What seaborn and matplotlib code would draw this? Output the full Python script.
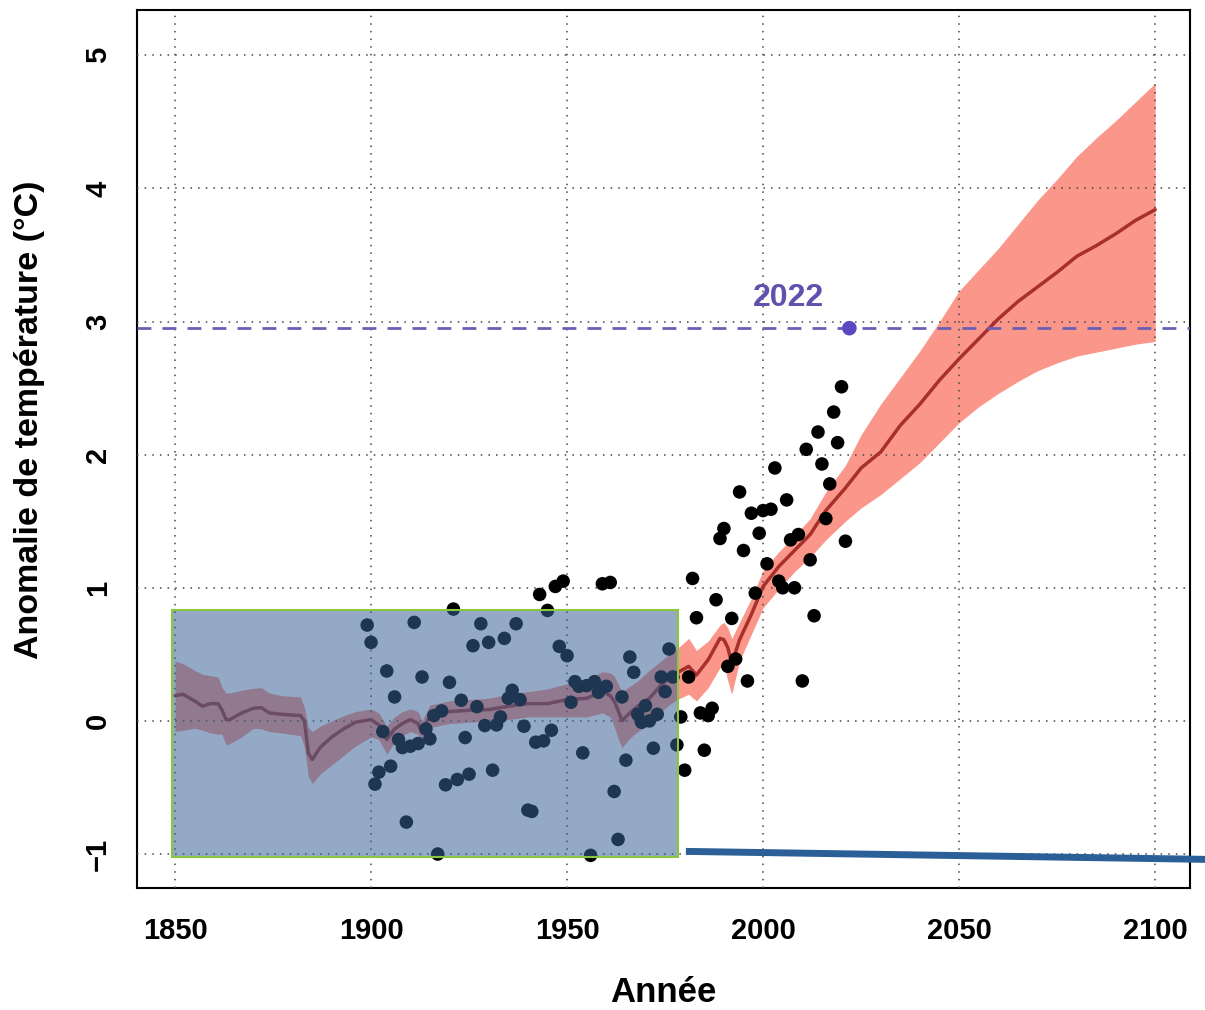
import numpy as np
import pandas as pd
import matplotlib
matplotlib.use("Agg")
import matplotlib.pyplot as plt
from matplotlib.patches import Rectangle
import seaborn as sns

# ---------------- data ----------------
obs_years = list(range(1899, 2022))
obs_values = [
    0.72, 0.59, -0.475, -0.385, -0.08, 0.375, -0.34, 0.18, -0.14, -0.20,   # 1899-1908
    -0.76, -0.19, 0.74, -0.17, 0.33, -0.06, -0.135, 0.04, -1.00, 0.075,    # 1909-1918
    -0.48, 0.29, 0.84, -0.44, 0.155, -0.125, -0.40, 0.565, 0.107, 0.73,    # 1919-1928
    -0.035, 0.59, -0.37, -0.03, 0.03, 0.62, 0.17, 0.23, 0.73, 0.16,        # 1929-1938
    -0.04, -0.67, -0.68, -0.16, 0.95, -0.15, 0.83, -0.07, 1.01, 0.56,      # 1939-1948
    1.05, 0.49, 0.14, 0.295, 0.26, -0.24, 0.265, -1.01, 0.295, 0.215,      # 1949-1958
    1.03, 0.26, 1.04, -0.53, -0.89, 0.18, -0.295, 0.48, 0.365, 0.05,       # 1959-1968
    -0.01, 0.115, 0.00, -0.205, 0.05, 0.33, 0.22, 0.54, 0.33, -0.18,       # 1969-1978
    0.03, -0.37, 0.33, 1.07, 0.775, 0.06, -0.22, 0.04, 0.095, 0.91,        # 1979-1988
    1.37, 1.445, 0.41, 0.77, 0.465, 1.72, 1.28, 0.30, 1.56, 0.96,          # 1989-1998
    1.41, 1.58, 1.18, 1.59, 1.90, 1.05, 1.00, 1.66, 1.36, 1.00,            # 1999-2008
    1.40, 0.30, 2.04, 1.21, 0.79, 2.17, 1.93, 1.52, 1.78, 2.32,            # 2009-2018
    2.09, 2.51, 1.35,                                                      # 2019-2021
]
highlight_year = [2022]
highlight_value = [2.95]
highlight_label = "2022"

model_years = [1850, 1852, 1855, 1857, 1859, 1861, 1862, 1863, 1864, 1867,
               1870, 1872, 1874, 1877, 1882, 1883, 1884, 1885, 1887, 1890,
               1893, 1896, 1900, 1902, 1904, 1906, 1908, 1910, 1912, 1913,
               1915, 1920, 1925, 1930, 1935, 1940, 1945, 1950, 1955, 1959,
               1961, 1962, 1963, 1964, 1966, 1968, 1971, 1974, 1976, 1978,
               1981, 1983, 1986, 1989, 1990, 1991, 1992, 1994, 1997, 2000,
               2004, 2008, 2012, 2016, 2021, 2025, 2030, 2035, 2040, 2045,
               2050, 2055, 2060, 2065, 2070, 2075, 2080, 2085, 2090, 2095,
               2100]
model_mean = [0.19, 0.20, 0.15, 0.11, 0.13, 0.13, 0.08, 0.01, 0.01, 0.06,
              0.095, 0.10, 0.06, 0.05, 0.04, 0.00, -0.24, -0.29, -0.20, -0.12,
              -0.06, -0.01, 0.01, -0.03, -0.14, -0.06, -0.02, 0.01, -0.02, -0.09,
              0.04, 0.07, 0.08, 0.085, 0.11, 0.13, 0.13, 0.16, 0.17, 0.22,
              0.19, 0.15, 0.08, 0.00, 0.06, 0.11, 0.17, 0.27, 0.32, 0.36,
              0.41, 0.345, 0.46, 0.62, 0.61, 0.55, 0.43, 0.61, 0.80, 1.01,
              1.16, 1.28, 1.40, 1.58, 1.75, 1.90, 2.02, 2.22, 2.38, 2.56,
              2.72, 2.87, 3.02, 3.15, 3.26, 3.37, 3.49, 3.57, 3.66, 3.76,
              3.84]
model_upper = [0.45, 0.43, 0.38, 0.35, 0.34, 0.33, 0.25, 0.21, 0.21, 0.23,
               0.245, 0.25, 0.21, 0.19, 0.18, 0.10, -0.05, -0.08, -0.04, 0.00,
               0.04, 0.07, 0.09, 0.06, -0.04, 0.03, 0.07, 0.09, 0.07, 0.00,
               0.12, 0.15, 0.16, 0.17, 0.20, 0.22, 0.24, 0.28, 0.31, 0.37,
               0.36, 0.34, 0.28, 0.22, 0.26, 0.30, 0.38, 0.45, 0.50, 0.54,
               0.62, 0.53, 0.60, 0.72, 0.74, 0.70, 0.62, 0.74, 0.92, 1.13,
               1.27, 1.39, 1.52, 1.72, 1.92, 2.15, 2.38, 2.58, 2.78, 3.00,
               3.23, 3.39, 3.55, 3.73, 3.91, 4.07, 4.24, 4.38, 4.51, 4.65,
               4.79]
model_lower = [-0.08, -0.07, -0.055, -0.07, -0.09, -0.10, -0.10, -0.18, -0.17, -0.12,
               -0.055, -0.06, -0.08, -0.09, -0.11, -0.20, -0.42, -0.47, -0.40, -0.33,
               -0.26, -0.19, -0.12, -0.14, -0.25, -0.16, -0.11, -0.08, -0.10, -0.18,
               -0.05, -0.02, -0.01, 0.00, 0.01, 0.03, 0.03, 0.03, 0.03, 0.06,
               0.03, -0.04, -0.13, -0.20, -0.13, -0.08, -0.03, 0.07, 0.12, 0.16,
               0.20, 0.15, 0.25, 0.40, 0.42, 0.30, 0.20, 0.45, 0.65, 0.85,
               0.99, 1.12, 1.23, 1.36, 1.50, 1.60, 1.70, 1.82, 1.94, 2.09,
               2.24, 2.36, 2.46, 2.55, 2.63, 2.69, 2.74, 2.77, 2.80, 2.83,
               2.85]

x_ticks = [1850, 1900, 1950, 2000, 2050, 2100]
y_ticks = [-1, 0, 1, 2, 3, 4, 5]
x_label = "Année"
y_label = "Anomalie de température (°C)"

# highlighted (reference period) box and callout line, in data units
box_x0, box_x1 = 1849.2, 1978.3
box_y0, box_y1 = -1.02, 0.835
callout_x = [1980.3, 2113.0]
callout_y = [-0.98, -1.04]

obs_df = pd.DataFrame({"year": obs_years, "value": obs_values})
model_df = pd.DataFrame({"year": model_years, "mean": model_mean,
                         "lower": model_lower, "upper": model_upper})

# ---------------- style ----------------
sns.set_style("white")
plt.rcParams["font.family"] = ["Liberation Sans", "DejaVu Sans"]
plt.rcParams["font.weight"] = "bold"

fig = plt.figure(figsize=(12.05, 10.10), dpi=100)
ax = fig.add_axes([0.1137, 0.1208, 0.8739, 0.8693])

# uncertainty band + mean
ax.fill_between(model_df["year"], model_df["lower"], model_df["upper"],
                color="#FB978A", linewidth=0, zorder=1.5)
sns.lineplot(data=model_df, x="year", y="mean", color="#A8302C",
             linewidth=2.5, ax=ax, zorder=3, sort=False)

# dashed reference line at 2022 value
ax.axhline(highlight_value[0], color="#6A5FB5", linestyle=(0, (5, 4)),
           linewidth=2, zorder=3.5)

# observations
sns.scatterplot(data=obs_df, x="year", y="value", color="black", s=95,
                edgecolor="none", ax=ax, zorder=4, legend=False)
sns.scatterplot(x=highlight_year, y=highlight_value, color="#5B48C2", s=110,
                edgecolor="none", ax=ax, zorder=6, legend=False)
ax.text(highlight_year[0] - 15.5, highlight_value[0] + 0.23, highlight_label,
        color="#5E52AE", fontsize=23, fontweight="bold", ha="center",
        va="center", zorder=6)

# reference-period overlay box
ax.add_patch(Rectangle((box_x0, box_y0), box_x1 - box_x0, box_y1 - box_y0,
                       facecolor="#3A6396", alpha=0.55, edgecolor="none",
                       zorder=5))
ax.add_patch(Rectangle((box_x0, box_y0), box_x1 - box_x0, box_y1 - box_y0,
                       facecolor="none", edgecolor="#8CC63F", linewidth=1.5,
                       zorder=5.1))
ax.plot(callout_x, callout_y, color="#2B5F98", linewidth=5,
        solid_capstyle="butt", clip_on=False, zorder=6)

# axes
ax.set_xlim(1840.3, 2108.9)
ax.set_ylim(-1.255, 5.34)
ax.set_xticks(x_ticks)
ax.set_yticks(y_ticks)
ax.set_axisbelow(False)
ax.grid(True, linestyle=(0, (1, 4)), color="#444444", linewidth=1.1)
for sp in ax.spines.values():
    sp.set_visible(True)
    sp.set_color("black")
    sp.set_linewidth(1.5)

ax.tick_params(axis="both", direction="out", length=10, width=1.2,
               colors="black", labelsize=21)
ax.tick_params(axis="x", pad=11)
ax.tick_params(axis="y", pad=8)
for lab in ax.get_xticklabels() + ax.get_yticklabels():
    lab.set_fontweight("bold")
for lab in ax.get_yticklabels():
    lab.set_rotation(90)
    lab.set_va("center")

ax.set_xlabel(x_label, fontsize=25, fontweight="bold", labelpad=22,
              color="black")
ax.set_ylabel(y_label, fontsize=24.5, fontweight="bold", color="black")
ax.yaxis.set_label_coords(-0.087, 0.533)

fig.savefig("out.png", dpi=100)
